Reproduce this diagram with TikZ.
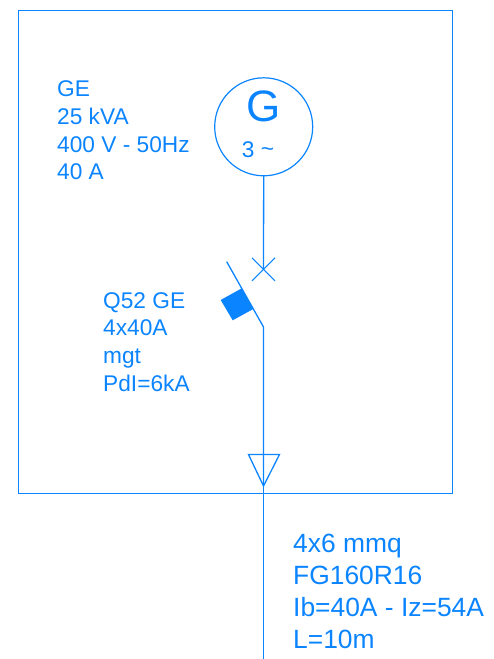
\documentclass[tikz,border=0pt]{standalone}
\usepackage{fontspec}
\setmainfont{Liberation Sans}
\usetikzlibrary{positioning}
\definecolor{wireblue}{HTML}{0A84FF}
\tikzstyle{label} = [text=wireblue, align=left, inner sep=0pt, font=\fontsize{22.7}{27.7}\selectfont]
\tikzstyle{cablelabel} = [label, font=\fontsize{26.4}{32}\selectfont]
\tikzstyle{wire} = [draw=wireblue, line width=1.3pt]
\tikzstyle{generator} = [circle, draw=wireblue, line width=1.2pt, minimum size=98pt, inner sep=0pt]

\begin{document}
\begin{tikzpicture}[x=1pt, y=-1pt]
\useasboundingbox (0,0) rectangle (494,659);

% Nodes
\node[generator] (gen) at (263.7,126.8) {};
\node[text=wireblue, inner sep=0pt, font=\fontsize{44}{44}\selectfont] (gen letter) at (263.2,106.5) {G};
\node[label] (gen phase) at (258,150) {3 \raisebox{1pt}{\textasciitilde}};
\node[label, anchor=west] (gen data) at (57,130.5) {GE\\25 kVA\\400 V - 50Hz\\40 A};
\node[label, anchor=west] (breaker data) at (103,342) {Q52 GE\\4x40A\\mgt\\PdI=6kA};
\node[cablelabel, anchor=west] (cable data) at (293,591) {4x6 mmq\\FG160R16\\Ib=40A - Iz=54A\\L=10m};

\coordinate (frame nw) at (18,10);
\coordinate (frame se) at (452,493.5);
\coordinate (contact) at (263.5,269.3);
\coordinate (hinge) at (263.5,327);
\coordinate (blade end) at (226.7,261.7);
\coordinate (tri left) at (248.5,454.5);
\coordinate (tri right) at (279.5,454.5);
\coordinate (tri tip) at (263.5,486);
\coordinate (cable end) at (263.5,659);

% Frame
\draw[wire, line width=1pt] (frame nw) rectangle (frame se);

% Connectors
\draw[wire] (gen) ++(0,49) -- (contact);
\draw[wire, line width=1pt] (contact) ++(-11.5,-11.5) -- ++(23,23);
\draw[wire, line width=1pt] (contact) ++(11.5,-11.5) -- ++(-23,23);
\draw[wire] (blade end) -- (hinge) -- (tri tip);
\fill[wireblue] (241.7,288.3) -- (253.3,309) -- (232.7,320.3) -- (220.7,300) -- cycle;
\draw[wire] (tri left) -- (tri right) -- (tri tip) -- cycle;
\draw[wire] (tri tip) -- (cable end);

\end{tikzpicture}
\end{document}
